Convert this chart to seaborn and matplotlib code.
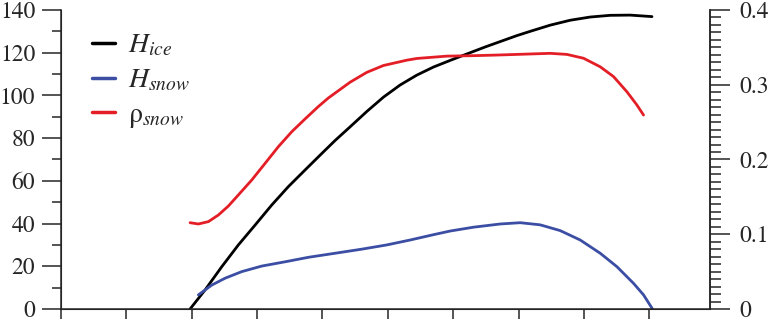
import matplotlib
matplotlib.use('Agg')
import matplotlib.pyplot as plt
import seaborn as sns
from matplotlib.ticker import MultipleLocator

# values (left axis units)
x_ice = [1.975, 2.204, 2.46, 2.714, 2.97, 3.225, 3.479, 3.735, 3.99, 4.194, 4.424, 4.68, 4.934, 5.19, 5.444, 5.7,
         5.955, 6.158, 6.5, 6.975, 7.179, 7.485, 7.791, 8.097, 8.403, 8.709, 9.042]
h_ice = [0, 8.9, 19.8, 30.0, 39.3, 48.7, 57.3, 65.1, 72.8, 78.9, 85.3, 92.5, 99.2, 104.9, 109.5, 113.3,
         116.4, 118.8, 122.8, 128.0, 130.0, 132.9, 135.2, 136.7, 137.5, 137.6, 136.9]

x_snow = [2.102, 2.307, 2.51, 2.766, 3.072, 3.429, 3.785, 4.194, 4.6, 4.985, 5.342, 5.7, 5.954, 6.311, 6.72,
          7.026, 7.332, 7.638, 7.944, 8.25, 8.506, 8.76, 8.913, 9.05]
h_snow = [6.6, 11.2, 14.4, 17.5, 20.1, 22.1, 24.2, 26.1, 28.0, 30.0, 32.3, 34.8, 36.5, 38.3, 39.8,
          40.4, 39.4, 36.7, 32.3, 26.1, 19.8, 12.0, 6.6, 0]

x_rho = [1.975, 2.102, 2.255, 2.408, 2.561, 2.714, 2.919, 3.123, 3.326, 3.531, 3.735, 3.938, 4.091, 4.424, 4.679,
         4.933, 5.292, 5.445, 5.904, 6.3, 6.669, 7.179, 7.485, 7.741, 7.995, 8.25, 8.454, 8.659, 8.812, 8.913]
rho_snow = [40.4, 39.8, 40.9, 44.0, 48.2, 53.4, 60.4, 68.2, 76.0, 83.0, 89.0, 94.8, 98.8, 106.2, 110.8,
            114.0, 116.5, 117.3, 118.4, 118.6, 118.9, 119.4, 119.7, 119.2, 117.4, 113.4, 108.8, 101.7, 95.5, 90.8]

left_ticks = [0, 20, 40, 60, 80, 100, 120, 140]
left_labels = ['0', '20', '40', '60', '80', '100', '120', '140']
right_ticks = [0, 0.1, 0.2, 0.3, 0.4]
right_labels = ['0', '0.1', '0.2', '0.3', '0.4']

sns.set_style('ticks')
plt.rcParams['font.family'] = ['STIXGeneral', 'Liberation Serif', 'DejaVu Serif']
plt.rcParams['mathtext.fontset'] = 'stix'

fig = plt.figure(figsize=(7.71, 3.22), dpi=100)
ax = fig.add_axes([0.0791, 0.0404, 0.8418, 0.9286])

sns.lineplot(x=x_ice, y=h_ice, color='black', linewidth=2.0, ax=ax, label=r'$H_{ice}$')
sns.lineplot(x=x_snow, y=h_snow, color='#3b4ea3', linewidth=2.0, ax=ax, label=r'$H_{snow}$')
sns.lineplot(x=x_rho, y=rho_snow, color='#e41e26', linewidth=2.0, ax=ax, label=r'ρ$_{snow}$')

ax.set_xlim(0, 9.93)
ax.set_ylim(0, 140)
ax.set_xticks(range(0, 10))
ax.set_xticklabels([])
ax.set_yticks(left_ticks)
ax.set_yticklabels(left_labels)
ax.yaxis.set_minor_locator(MultipleLocator(10))
ax.tick_params(axis='y', which='major', direction='out', length=13.5, width=1.1, labelsize=17, pad=5)
ax.tick_params(axis='y', which='minor', direction='out', length=6.5, width=1.1)
ax.tick_params(axis='x', which='major', direction='out', length=7.5, width=1.1)
for s in ['left', 'bottom', 'right']:
    ax.spines[s].set_linewidth(1.1)
ax.spines['top'].set_visible(False)

# right axis
ax2 = ax.twinx()
ax2.set_ylim(0, 0.4)
ax2.set_yticks(right_ticks)
ax2.set_yticklabels(right_labels)
ax2.yaxis.set_minor_locator(MultipleLocator(0.01))
ax2.tick_params(axis='y', which='major', direction='out', length=14.5, width=1.1, labelsize=17, pad=6.5)
ax2.tick_params(axis='y', which='minor', direction='out', length=8, width=1.1)
ax2.spines['top'].set_visible(False)
ax2.spines['right'].set_linewidth(1.1)

leg = ax.legend(loc='upper left', bbox_to_anchor=(0.03, 0.96), frameon=False, fontsize=20,
                handlelength=0.85, handletextpad=0.45, labelspacing=0.33, borderaxespad=0)
for line in leg.get_lines():
    line.set_linewidth(2.5)

plt.savefig('out.png', dpi=100)
